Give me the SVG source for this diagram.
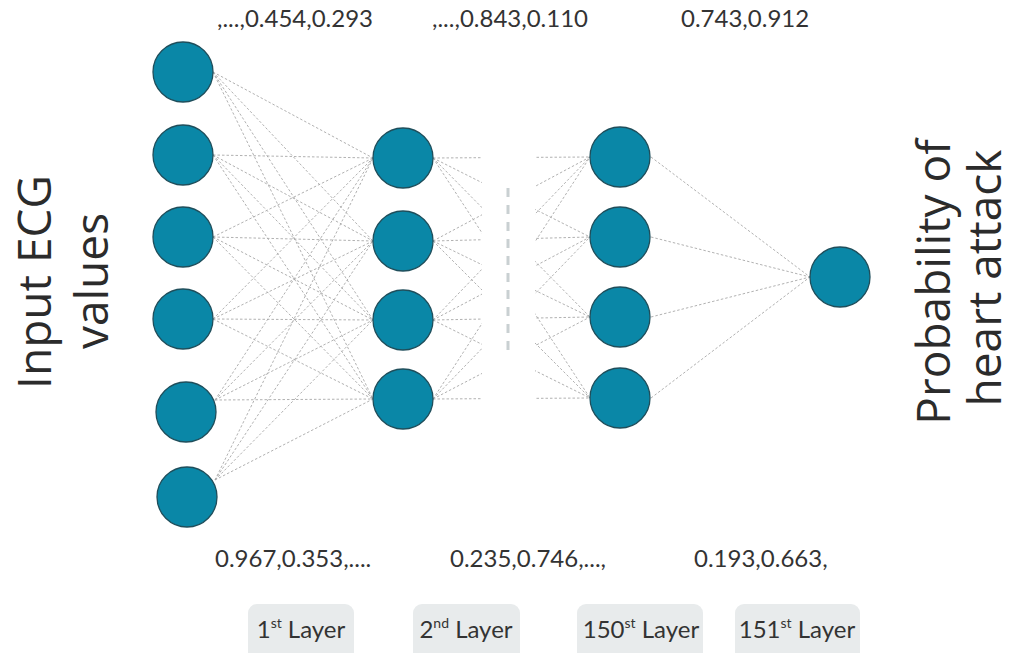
<svg xmlns="http://www.w3.org/2000/svg" width="1015" height="653" viewBox="0 0 1015 653">
  <style>
    .node { fill: #0a87a7; stroke: #1f4e5b; stroke-width: 1.3; }
    .edge { stroke: #a8a8a8; stroke-width: 0.9; stroke-dasharray: 2.5 2; fill: none; }
    .val { font-family: Lato, "Liberation Sans", sans-serif; font-size: 24px; fill: #333; }
    .title { font-family: "Open Sans", "Liberation Sans", sans-serif; font-size: 46px; fill: #2b2b2b; text-anchor: middle; }
    .tag { fill: #e8ebec; }
    .tagtxt { font-family: Lato, "Liberation Sans", sans-serif; font-size: 24px; fill: #333; text-anchor: middle; }
    .sup { font-size: 14px; }
  </style>
  <defs>
    <!-- hide the middle of the hidden-layer links so the gap reads as "many layers" -->
    <clipPath id="gap">
      <rect x="0" y="0" width="482" height="653"/>
      <rect x="535" y="0" width="480" height="653"/>
    </clipPath>
  </defs>
  <rect width="1015" height="653" fill="#ffffff"/>

  <g id="connectors">
    <!-- input layer to layer 2 -->
    <g class="edge">
      <path d="M213 72L373 158M213 72L373 241M213 72L373 320M213 72L373 399"/>
      <path d="M213 155L373 158M213 155L373 241M213 155L373 320M213 155L373 399"/>
      <path d="M213 237L373 158M213 237L373 241M213 237L373 320M213 237L373 399"/>
      <path d="M213 319L373 158M213 319L373 241M213 319L373 320M213 319L373 399"/>
      <path d="M215 400L373 158M215 400L373 241M215 400L373 320M215 400L373 399"/>
      <path d="M215 480L373 158M215 480L373 241M215 480L373 320M215 480L373 399"/>
    </g>
    <!-- layer 2 to layer 150, interrupted -->
    <g class="edge" clip-path="url(#gap)">
      <path d="M433 158L590 157M433 158L590 237M433 158L590 317M433 158L590 398"/>
      <path d="M433 241L590 157M433 241L590 237M433 241L590 317M433 241L590 398"/>
      <path d="M433 320L590 157M433 320L590 237M433 320L590 317M433 320L590 398"/>
      <path d="M433 399L590 157M433 399L590 237M433 399L590 317M433 399L590 398"/>
    </g>
    <!-- layer 150 to output -->
    <g class="edge">
      <path d="M651 157L810 277M651 237L810 277M651 317L810 277M651 398L810 277"/>
    </g>
    <!-- ellipsis between hidden layers -->
    <line x1="508" y1="188" x2="508" y2="358" stroke="#c9d0d2" stroke-width="3" stroke-dasharray="9 8"/>
  </g>

  <g id="layer1">
    <circle id="in1" class="node" cx="183" cy="72" r="30"/>
    <circle id="in2" class="node" cx="183" cy="155" r="30"/>
    <circle id="in3" class="node" cx="183" cy="237" r="30"/>
    <circle id="in4" class="node" cx="183" cy="319" r="30"/>
    <circle id="in5" class="node" cx="186" cy="412" r="30"/>
    <circle id="in6" class="node" cx="187" cy="497" r="30"/>
  </g>
  <g id="layer2">
    <circle id="h2a" class="node" cx="403" cy="158" r="30"/>
    <circle id="h2b" class="node" cx="403" cy="241" r="30"/>
    <circle id="h2c" class="node" cx="403" cy="320" r="30"/>
    <circle id="h2d" class="node" cx="403" cy="399" r="30"/>
  </g>
  <g id="layer150">
    <circle id="h150a" class="node" cx="620" cy="157" r="30"/>
    <circle id="h150b" class="node" cx="620" cy="237" r="30"/>
    <circle id="h150c" class="node" cx="620" cy="317" r="30"/>
    <circle id="h150d" class="node" cx="620" cy="398" r="30"/>
  </g>
  <g id="output">
    <circle id="out" class="node" cx="840" cy="277" r="30"/>
  </g>

  <g id="values">
    <text class="val" x="217" y="27">,...,0.454,0.293</text>
    <text class="val" x="432" y="27">,...,0.843,0.110</text>
    <text class="val" x="681" y="27">0.743,0.912</text>
    <text class="val" x="215" y="567">0.967,0.353,....</text>
    <text class="val" x="450" y="567">0.235,0.746,...,</text>
    <text class="val" x="694" y="567">0.193,0.663,</text>
  </g>

  <g id="input-title">
    <text class="title" transform="translate(51 282) rotate(-90)">Input ECG</text>
    <text class="title" transform="translate(108 281) rotate(-90)">values</text>
  </g>
  <g id="output-title">
    <text class="title" transform="translate(950 282) rotate(-90)">Probability of</text>
    <text class="title" transform="translate(1001 278) rotate(-90)" font-size="45">heart attack</text>
  </g>

  <g id="layer-tags">
    <g id="tag1">
      <rect class="tag" x="248" y="604" width="106" height="60" rx="9"/>
      <text class="tagtxt" x="301" y="638">1<tspan class="sup" dy="-10">st</tspan><tspan dy="10"> Layer</tspan></text>
    </g>
    <g id="tag2">
      <rect class="tag" x="413" y="604" width="107" height="60" rx="9"/>
      <text class="tagtxt" x="466" y="638">2<tspan class="sup" dy="-10">nd</tspan><tspan dy="10"> Layer</tspan></text>
    </g>
    <g id="tag150">
      <rect class="tag" x="577" y="604" width="126" height="60" rx="9"/>
      <text class="tagtxt" x="641" y="638">150<tspan class="sup" dy="-10">st</tspan><tspan dy="10"> Layer</tspan></text>
    </g>
    <g id="tag151">
      <rect class="tag" x="735" y="604" width="125" height="60" rx="9"/>
      <text class="tagtxt" x="797" y="638">151<tspan class="sup" dy="-10">st</tspan><tspan dy="10"> Layer</tspan></text>
    </g>
  </g>
</svg>
